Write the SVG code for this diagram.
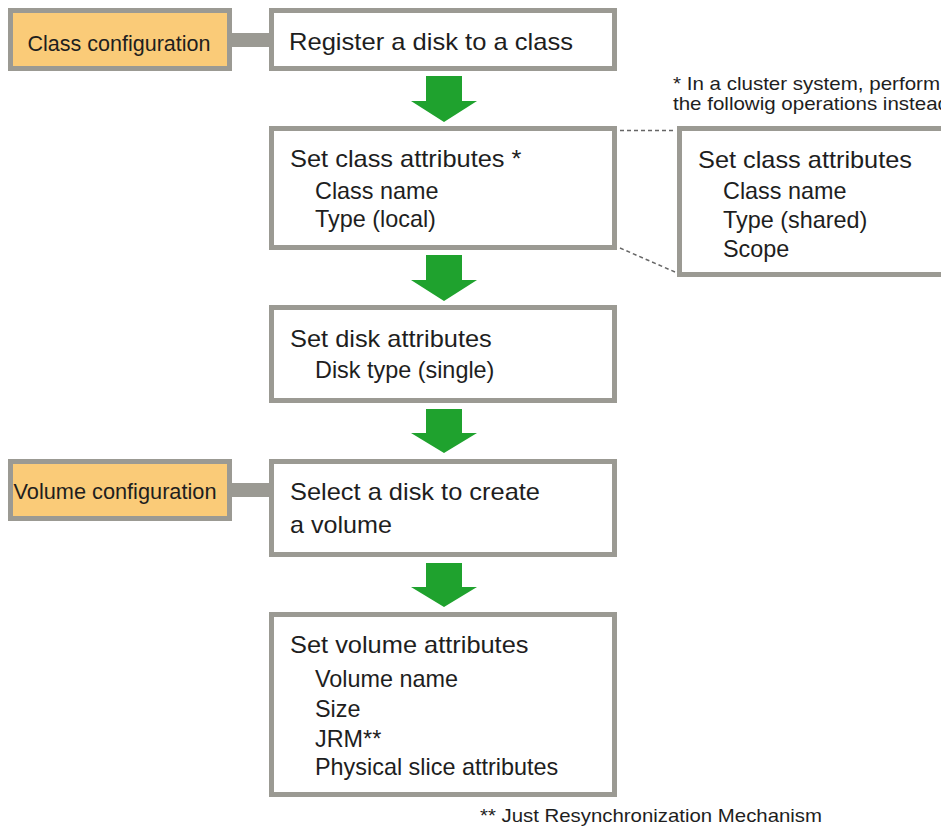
<svg xmlns="http://www.w3.org/2000/svg" width="941" height="828" viewBox="0 0 941 828">
<style>
.box{fill:#fff;stroke:#9b9a93;stroke-width:5}
.lab{fill:#facb78;stroke:#9b9a93;stroke-width:5}
.t{font-family:"Liberation Sans",Arial,sans-serif;font-size:24px;fill:#1e1e1e}
.u{font-family:"Liberation Sans",Arial,sans-serif;font-size:23.4px;fill:#1e1e1e}
.s{font-family:"Liberation Sans",Arial,sans-serif;font-size:22px;fill:#1e1e1e}
.n{font-family:"Liberation Sans",Arial,sans-serif;font-size:19px;fill:#1e1e1e}
.arr{fill:#1fa22e}
.bar{fill:#9b9a93}
.dash{stroke:#666;stroke-width:1.5;stroke-dasharray:4 3;fill:none}
</style>
<rect width="941" height="828" fill="#fff"/>
<g id="connectors">
<rect class="bar" x="231" y="33" width="40" height="14"/>
<rect class="bar" x="231" y="483" width="40" height="14"/>
<polygon class="arr" points="426,76 462,76 462,101 477,101 444,122 411,101 426,101"/>
<polygon class="arr" points="426,255 462,255 462,280 477,280 444,301 411,280 426,280"/>
<polygon class="arr" points="426,409 462,409 462,433 477,433 444,453 411,433 426,433"/>
<polygon class="arr" points="426,563 462,563 462,587 477,587 444,607 411,587 426,587"/>
<line class="dash" x1="620" y1="130.5" x2="675" y2="130.5"/>
<line class="dash" x1="620" y1="248" x2="675" y2="272"/>
</g>
<g id="class-config">
<rect class="lab" x="10.5" y="10.5" width="219" height="58"/>
<text class="s" x="27.5" y="51" textLength="183" lengthAdjust="spacingAndGlyphs">Class configuration</text>
</g>
<g id="volume-config">
<rect class="lab" x="10.5" y="461.5" width="219" height="57"/>
<text class="s" x="13.5" y="498.5" textLength="203" lengthAdjust="spacingAndGlyphs">Volume configuration</text>
</g>
<g id="register">
<rect class="box" x="271.5" y="10.5" width="343" height="58"/>
<text class="t" x="289" y="50" textLength="284" lengthAdjust="spacingAndGlyphs">Register a disk to a class</text>
</g>
<g id="class-attrs">
<rect class="box" x="271.5" y="128.5" width="343" height="119"/>
<text class="t" x="290" y="167" textLength="231.5" lengthAdjust="spacingAndGlyphs">Set class attributes *</text>
<text class="u" x="315" y="199">Class name</text>
<text class="u" x="315" y="227">Type (local)</text>
</g>
<g id="cluster-note">
<text class="n" x="673" y="90" textLength="267" lengthAdjust="spacingAndGlyphs">* In a cluster system, perform</text>
<text class="n" x="673" y="110" textLength="276" lengthAdjust="spacingAndGlyphs">the followig operations instead</text>
</g>
<g id="class-attrs-shared">
<rect class="box" x="679.5" y="128.5" width="280" height="146"/>
<text class="t" x="698" y="168" textLength="214" lengthAdjust="spacingAndGlyphs">Set class attributes</text>
<text class="u" x="723" y="199">Class name</text>
<text class="u" x="723" y="228">Type (shared)</text>
<text class="u" x="723" y="257">Scope</text>
</g>
<g id="disk-attrs">
<rect class="box" x="271.5" y="307.5" width="343" height="93"/>
<text class="t" x="290" y="347" textLength="201.8" lengthAdjust="spacingAndGlyphs">Set disk attributes</text>
<text class="u" x="315" y="378">Disk type (single)</text>
</g>
<g id="select-disk">
<rect class="box" x="271.5" y="461.5" width="343" height="93"/>
<text class="t" x="290" y="500" textLength="250" lengthAdjust="spacingAndGlyphs">Select a disk to create</text>
<text class="t" x="290" y="533" textLength="102" lengthAdjust="spacingAndGlyphs">a volume</text>
</g>
<g id="volume-attrs">
<rect class="box" x="271.5" y="614.5" width="343" height="180"/>
<text class="t" x="290" y="653" textLength="238.5" lengthAdjust="spacingAndGlyphs">Set volume attributes</text>
<text class="u" x="315" y="687">Volume name</text>
<text class="u" x="315" y="717">Size</text>
<text class="u" x="315" y="747">JRM**</text>
<text class="u" x="315" y="775">Physical slice attributes</text>
</g>
<g id="jrm-note">
<text class="n" x="480" y="822" textLength="342" lengthAdjust="spacingAndGlyphs">** Just Resynchronization Mechanism</text>
</g>
</svg>
